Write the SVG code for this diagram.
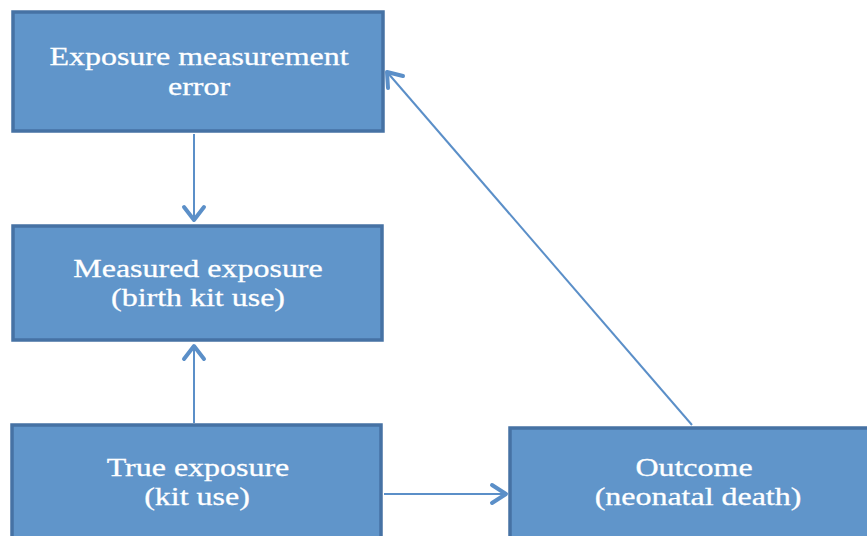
<svg xmlns="http://www.w3.org/2000/svg" width="867" height="536" viewBox="0 0 867 536">
<style>
.box{fill:#6095ca;stroke:#4672a4;stroke-width:3.5}
.t{font-family:"Liberation Serif",serif;font-size:26px;fill:#ffffff;stroke:#ffffff;stroke-width:0.3;text-anchor:middle}
.c{stroke:#5b8fc8;stroke-width:2;fill:none}
.h{stroke:#5b8fc8;stroke-width:4;fill:none;stroke-linecap:round;stroke-linejoin:round}
</style>
<rect width="867" height="536" fill="#ffffff"/>
<g id="connectors">
<line class="c" x1="194" y1="134" x2="194" y2="221"/>
<polyline class="h" points="184,207 194,220 204,207"/>
<line class="c" x1="194" y1="423" x2="194" y2="346"/>
<polyline class="h" points="184,359 194,346 204,359"/>
<line class="c" x1="384" y1="494" x2="506" y2="494"/>
<polyline class="h" points="492,485 506,494 492,503"/>
<line class="c" x1="692" y1="425" x2="387" y2="72"/>
<polyline class="h" points="388,88 387,72 403,76"/>
</g>
<g id="n1">
<rect class="box" x="13" y="12" width="370" height="119"/>
<text class="t" transform="translate(199,65) scale(1.23,1)">Exposure measurement</text>
<text class="t" transform="translate(199,95) scale(1.23,1)">error</text>
</g>
<g id="n2">
<rect class="box" x="13" y="226" width="369" height="114"/>
<text class="t" transform="translate(198,277) scale(1.23,1)">Measured exposure</text>
<text class="t" transform="translate(198,306) scale(1.23,1)">(birth kit use)</text>
</g>
<g id="n3">
<rect class="box" x="12" y="425" width="369" height="115"/>
<text class="t" transform="translate(198,476) scale(1.23,1)">True exposure</text>
<text class="t" transform="translate(197,505) scale(1.23,1)">(kit use)</text>
</g>
<g id="n4">
<rect class="box" x="510" y="428" width="362" height="112"/>
<text class="t" transform="translate(694,476) scale(1.23,1)">Outcome</text>
<text class="t" transform="translate(698,505) scale(1.23,1)">(neonatal death)</text>
</g>
</svg>
